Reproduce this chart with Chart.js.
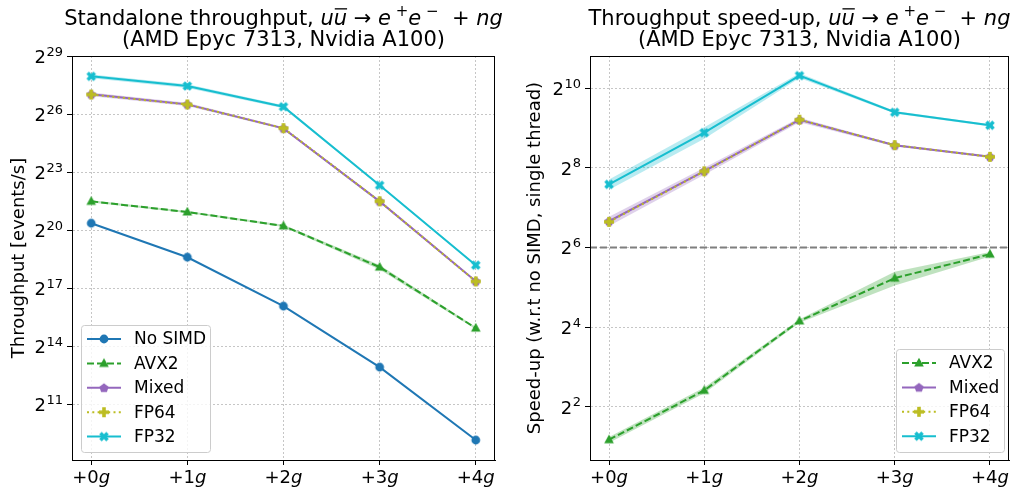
<!DOCTYPE html>
<html>
<head>
<meta charset="utf-8">
<script src="https://cdn.jsdelivr.net/npm/chart.js@4/dist/chart.umd.min.js"></script>
<style>
  html, body { margin: 0; padding: 0; background: #fff; }
  #wrap { position: relative; width: 1016px; height: 488px; }
  canvas { position: absolute; top: 0; }
</style>
</head>
<body>
<div id="wrap">
  <canvas id="left" width="508" height="488" style="left:0"></canvas>
  <canvas id="right" width="508" height="488" style="left:508px"></canvas>
</div>
<script>
// categories (extra gluons), the "g" is drawn in italics
const gluons = ["+0", "+1", "+2", "+3", "+4"];

// tick exponents (2^n)
const leftTickExp = [11, 14, 17, 20, 23, 26, 29];
const rightTickExp = [2, 4, 6, 8, 10];

// standalone throughput, events/s
const noSimdThroughput = [1.345e6, 397e3, 68.8e3, 7.75e3, 568];
const avx2Throughput = [2.94e6, 2.01e6, 1.22e6, 279e3, 31.4e3];
const mixedThroughput = [136e6, 94.9e6, 40.2e6, 2.94e6, 168e3];
const fp64Throughput = [135e6, 94.5e6, 40.5e6, 2.95e6, 167e3];
const fp32Throughput = [259e6, 183e6, 87.3e6, 5.23e6, 299e3];

// relative spread of the shaded bands (left)
const avx2SpreadL = [0.04, 0.04, 0.04, 0.08, 0.04];
const mixedSpreadL = [0.07, 0.06, 0.04, 0.03, 0.03];
const fp32SpreadL = [0.07, 0.07, 0.05, 0.03, 0.03];

// speed-up w.r.t. single-thread no SIMD
const avx2Speedup = [2.25, 5.31, 17.8, 37.5, 56.9];
const mixedSpeedup = [101, 242, 590, 379, 311];
const fp64Speedup = [100, 241, 592, 380, 310];
const fp32Speedup = [192, 472, 1276, 674, 537];
const threadLine = 64;

// relative spread of the shaded bands (right)
const avx2SpreadR = [0.05, 0.05, 0.03, 0.12, 0.04];
const mixedSpreadR = [0.08, 0.06, 0.04, 0.02, 0.02];
const fp32SpreadR = [0.09, 0.1, 0.04, 0.02, 0.02];

const FONT = "DejaVu Sans";
const C = {
  blue: "#1f77b4", green: "#2ca02c", purple: "#9467bd", olive: "#bcbd22", cyan: "#17becf",
};

/**
 * Builds a small canvas with a filled marker, used as pointStyle
 */
function makeMarker(shape, color) {
  const s = 14, c = document.createElement("canvas");
  c.width = s; c.height = s;
  const ctx = c.getContext("2d");
  ctx.translate(s / 2, s / 2);
  ctx.fillStyle = color;
  ctx.beginPath();
  if (shape == "circle") {
    ctx.arc(0, 0, 4.4, 0, Math.PI * 2);
  } else if (shape == "triangle") {
    ctx.moveTo(0, -5.2); ctx.lineTo(4.8, 3.4); ctx.lineTo(-4.8, 3.4);
  } else if (shape == "pentagon") {
    for (let i = 0; i < 5; i++) {
      const a = -Math.PI / 2 + i * 2 * Math.PI / 5;
      ctx.lineTo(4.9 * Math.cos(a), 4.9 * Math.sin(a) + 0.4);
    }
  } else {
    // filled plus, rotated for X
    if (shape == "x") ctx.rotate(Math.PI / 4);
    const a = 1.8, b = 5;
    const pts = [[-a,-b],[a,-b],[a,-a],[b,-a],[b,a],[a,a],[a,b],[-a,b],[-a,a],[-b,a],[-b,-a],[-a,-a]];
    pts.forEach(([x, y]) => ctx.lineTo(x, y));
  }
  ctx.closePath();
  ctx.fill();
  return c;
}

const markers = {
  noSimd: makeMarker("circle", C.blue),
  avx2: makeMarker("triangle", C.green),
  mixed: makeMarker("pentagon", C.purple),
  fp64: makeMarker("plus", C.olive),
  fp32: makeMarker("x", C.cyan),
};

const styles = {
  noSimd: { label: "No SIMD", color: C.blue, dash: [], marker: markers.noSimd, order: 4 },
  avx2: { label: "AVX2", color: C.green, dash: [7, 3], marker: markers.avx2, order: 3 },
  mixed: { label: "Mixed", color: C.purple, dash: [], marker: markers.mixed, order: 2 },
  fp64: { label: "FP64", color: C.olive, dash: [2, 3.3], marker: markers.fp64, order: 1 },
  fp32: { label: "FP32", color: C.cyan, dash: [], marker: markers.fp32, order: 0 },
};

function rgba(hex, a) {
  const n = parseInt(hex.slice(1), 16);
  return `rgba(${n >> 16},${(n >> 8) & 255},${n & 255},${a})`;
}

function lineSet(key, vals) {
  const st = styles[key];
  return {
    label: st.label,
    data: vals.map((v, i) => ({ x: i, y: v })),
    borderColor: st.color,
    backgroundColor: st.color,
    borderWidth: 2,
    borderDash: st.dash,
    pointStyle: st.marker,
    pointRadius: 5,
    fill: false,
    order: st.order,
  };
}

function bandSets(key, vals, spread) {
  const color = styles[key].color;
  return [
    { data: vals.map((v, i) => ({ x: i, y: v * (1 - spread[i]) })), borderWidth: 0, pointRadius: 0, fill: false, order: 20 },
    { data: vals.map((v, i) => ({ x: i, y: v * (1 + spread[i]) })), borderWidth: 0, pointRadius: 0,
      fill: "-1", backgroundColor: rgba(color, 0.3), order: 20 },
  ];
}

/**
 * Draws a list of [text, style] pieces centered on cx
 */
function drawRich(ctx, segs, cx, y, size) {
  const fontOf = st => {
    if (st == "i" || st == "bar") return `italic ${size}px "${FONT}"`;
    if (st == "sup") return `${Math.round(size * 0.72)}px "${FONT}"`;
    return `${size}px "${FONT}"`;
  };
  const widths = segs.map(([t, st]) => { ctx.font = fontOf(st); return ctx.measureText(t).width; });
  let x = cx - widths.reduce((a, b) => a + b, 0) / 2;
  ctx.textAlign = "left";
  ctx.textBaseline = "alphabetic";
  ctx.fillStyle = "#000";
  segs.forEach(([t, st], i) => {
    ctx.font = fontOf(st);
    ctx.fillText(t, x, st == "sup" ? y - size * 0.42 : y);
    if (st == "bar") {
      ctx.fillRect(x + 1, y - size * 0.8, widths[i] - 1, 1.3);
    }
    x += widths[i];
  });
}

function titleSegs(head) {
  return [
    [head, "n"], ["u", "i"], ["u", "bar"], [" \u2192 ", "n"], ["e", "i"], [" +", "sup"],
    ["e", "i"], [" \u2212", "sup"], ["  + ", "n"], ["ng", "i"],
  ];
}

function decoPlugin(cfg) {
  return {
    id: "deco",
    beforeDatasetsDraw(chart) {
      if (cfg.refLine == null) return;
      const { ctx, chartArea: a } = chart;
      const y = chart.scales.y.getPixelForValue(cfg.refLine);
      ctx.save();
      ctx.strokeStyle = "#7f7f7f";
      ctx.lineWidth = 2;
      ctx.setLineDash([7, 3]);
      ctx.beginPath(); ctx.moveTo(a.left, y); ctx.lineTo(a.right, y); ctx.stroke();
      ctx.restore();
    },
    afterDraw(chart) {
      const { ctx, chartArea: a } = chart;
      const xs = chart.scales.x, ys = chart.scales.y;
      ctx.save();
      ctx.setLineDash([]);
      ctx.strokeStyle = "#000";
      ctx.lineWidth = 1;
      ctx.strokeRect(Math.round(a.left) + 0.5, Math.round(a.top) + 0.5,
        Math.round(a.right - a.left) - 1, Math.round(a.bottom - a.top));

      // titles
      const cx = (a.left + a.right) / 2;
      drawRich(ctx, titleSegs(cfg.head), cx, 25, 21);
      drawRich(ctx, [["(AMD Epyc 7313, Nvidia A100)", "n"]], cx, 46, 21);

      // x tick labels
      gluons.forEach((g, i) => {
        drawRich(ctx, [[g, "n"], ["g", "i"]], xs.getPixelForValue(i), 483, 18);
      });

      // y tick labels
      cfg.tickExp.forEach(e => {
        const y = ys.getPixelForValue(2 ** e);
        const right = a.left - 9;
        ctx.textAlign = "right";
        ctx.textBaseline = "alphabetic";
        ctx.fillStyle = "#000";
        ctx.font = `13px "${FONT}"`;
        const w = ctx.measureText(String(e)).width;
        ctx.fillText(String(e), right, y - 0.5);
        ctx.font = `18px "${FONT}"`;
        ctx.fillText("2", right - w - 0.5, y + 7);
      });

      // y axis title
      ctx.save();
      ctx.translate(cfg.yTitleX, (a.top + a.bottom) / 2);
      ctx.rotate(-Math.PI / 2);
      ctx.textAlign = "center";
      ctx.textBaseline = "middle";
      ctx.font = `18px "${FONT}"`;
      ctx.fillText(cfg.yTitle, 0, 0);
      ctx.restore();

      // legend
      const L = cfg.legend;
      ctx.fillStyle = "rgba(255,255,255,0.8)";
      ctx.strokeStyle = "#cccccc";
      ctx.lineWidth = 1;
      ctx.beginPath();
      ctx.roundRect(L.x + 0.5, L.y + 0.5, L.w, L.h, 3);
      ctx.fill(); ctx.stroke();
      L.keys.forEach((k, i) => {
        const st = styles[k];
        const y = L.y + 14 + i * 24.4;
        ctx.strokeStyle = st.color;
        ctx.lineWidth = 2;
        ctx.setLineDash(st.dash);
        ctx.beginPath(); ctx.moveTo(L.x + 6, y); ctx.lineTo(L.x + 40, y); ctx.stroke();
        ctx.setLineDash([]);
        ctx.drawImage(st.marker, L.x + 23 - st.marker.width / 2, y - st.marker.height / 2);
        ctx.fillStyle = "#000";
        ctx.font = `17px "${FONT}"`;
        ctx.textAlign = "left";
        ctx.textBaseline = "middle";
        ctx.fillText(st.label, L.x + 53, y + 1);
      });
      ctx.restore();
    },
  };
}

function makeChart(id, datasets, opts) {
  const grid = { color: "#c6c6c6", lineWidth: 1, drawTicks: true, tickLength: 5, tickColor: "#000", tickWidth: 1 };
  return new Chart(document.getElementById(id), {
    type: "line",
    data: { datasets },
    options: {
      responsive: false,
      animation: false,
      devicePixelRatio: 1,
      layout: { padding: { top: 56, right: opts.padRight, left: 0, bottom: 0 } },
      plugins: { legend: { display: false }, tooltip: { enabled: false } },
      elements: { line: { tension: 0 } },
      scales: {
        x: {
          type: "linear",
          min: -0.2,
          max: 4.2,
          afterBuildTicks: s => { s.ticks = gluons.map((_, i) => ({ value: i })); },
          afterFit: s => { s.height = 28; },
          ticks: { display: false },
          grid,
          border: { color: "#000", width: 1, dash: [2, 2] },
        },
        y: {
          type: "logarithmic",
          min: 2 ** opts.yMinExp,
          max: 2 ** opts.yMaxExp,
          afterBuildTicks: s => { s.ticks = opts.tickExp.map(e => ({ value: 2 ** e })); },
          afterFit: s => { s.width = opts.yWidth; },
          ticks: { display: false },
          grid,
          border: { color: "#000", width: 1, dash: [2, 2] },
        },
      },
    },
    plugins: [decoPlugin(opts.deco)],
  });
}

makeChart("left", [
  ...bandSets("avx2", avx2Throughput, avx2SpreadL),
  ...bandSets("mixed", mixedThroughput, mixedSpreadL),
  ...bandSets("fp32", fp32Throughput, fp32SpreadL),
  lineSet("noSimd", noSimdThroughput),
  lineSet("avx2", avx2Throughput),
  lineSet("mixed", mixedThroughput),
  lineSet("fp64", fp64Throughput),
  lineSet("fp32", fp32Throughput),
], {
  padRight: 13, yWidth: 72, yMinExp: 8.12, yMaxExp: 29, tickExp: leftTickExp,
  deco: {
    head: "Standalone throughput, ",
    tickExp: leftTickExp,
    yTitle: "Throughput [events/s]",
    yTitleX: 19,
    legend: { x: 81, y: 325, w: 129, h: 127, keys: ["noSimd", "avx2", "mixed", "fp64", "fp32"] },
  },
});

makeChart("right", [
  ...bandSets("avx2", avx2Speedup, avx2SpreadR),
  ...bandSets("mixed", mixedSpeedup, mixedSpreadR),
  ...bandSets("fp32", fp32Speedup, fp32SpreadR),
  lineSet("avx2", avx2Speedup),
  lineSet("mixed", mixedSpeedup),
  lineSet("fp64", fp64Speedup),
  lineSet("fp32", fp32Speedup),
], {
  padRight: 5, yWidth: 82, yMinExp: 0.66, yMaxExp: 10.81, tickExp: rightTickExp,
  deco: {
    head: "Throughput speed-up, ",
    tickExp: rightTickExp,
    yTitle: "Speed-up (w.r.t no SIMD, single thread)",
    yTitleX: 27,
    refLine: threadLine,
    legend: { x: 388, y: 349, w: 108, h: 103, keys: ["avx2", "mixed", "fp64", "fp32"] },
  },
});
</script>
</body>
</html>
